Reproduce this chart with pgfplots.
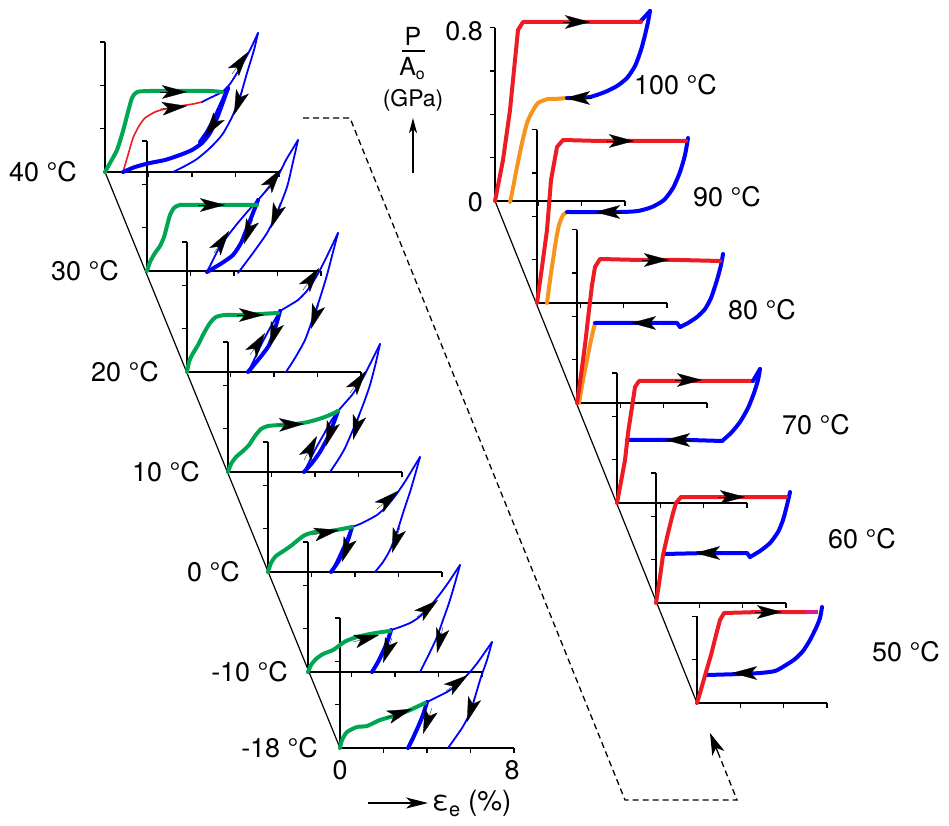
\documentclass[border=0pt]{standalone}
\usepackage{pgfplots}
\pgfplotsset{compat=1.18}
\usepackage{fontspec}
\setmainfont{TeX Gyre Heros}
\usetikzlibrary{arrows.meta}
\definecolor{grn}{RGB}{0,166,81}
\definecolor{rd}{RGB}{237,28,36}
\definecolor{bl}{RGB}{0,0,255}
\definecolor{org}{RGB}{247,148,29}
\definecolor{mag}{RGB}{230,25,140}
\tikzset{
 tg/.style={grn, line width=4bp, line cap=round, line join=round, smooth, tension=0.4},
 tb/.style={bl, line width=4bp, line cap=round, line join=round, smooth, tension=0.4},
 nb/.style={bl, line width=1.8bp, line cap=round, line join=round, smooth, tension=0.4},
 nr/.style={rd, line width=1.6bp, line cap=round, line join=round, smooth, tension=0.4},
 tr/.style={rd, line width=4bp, line cap=round, line join=round},
 to/.style={org, line width=4bp, line cap=round, line join=round, smooth, tension=0.4},
 tbs/.style={bl, line width=4bp, line cap=round, line join=round},
 arr/.style={-{Stealth[length=25bp,width=13.5bp,inset=6bp]}, black, line width=0.3bp},
 axl/.style={black, line width=1.1bp},
 lab/.style={font=\fontsize{27}{30}\selectfont, inner sep=0pt},
}
\newcommand{\lframe}[2]{%
 \draw[axl] (axis cs:#1,#2-130)--(axis cs:#1,#2)--(axis cs:#1+174,#2)
  (axis cs:#1,#2-43.3)--(axis cs:#1-5,#2-43.3)
  (axis cs:#1,#2-86.7)--(axis cs:#1-5,#2-86.7)
  (axis cs:#1,#2-130)--(axis cs:#1-5,#2-130)
  (axis cs:#1+43.5,#2)--(axis cs:#1+43.5,#2+5)
  (axis cs:#1+87,#2)--(axis cs:#1+87,#2+5)
  (axis cs:#1+130.5,#2)--(axis cs:#1+130.5,#2+5)
  (axis cs:#1+174,#2)--(axis cs:#1+174,#2+5);}
\newcommand{\rxaxis}[2]{%
 \draw[axl] (axis cs:#1,#2)--(axis cs:#1+130,#2)
  (axis cs:#1+43.3,#2)--(axis cs:#1+43.3,#2+5)
  (axis cs:#1+86.7,#2)--(axis cs:#1+86.7,#2+5)
  (axis cs:#1+130,#2)--(axis cs:#1+130,#2+5);}
\newcommand{\rframeA}[2]{\rxaxis{#1}{#2}%
 \draw[axl] (axis cs:#1,#2-173.3)--(axis cs:#1,#2)
  (axis cs:#1,#2-43.3)--(axis cs:#1-5,#2-43.3)
  (axis cs:#1,#2-86.7)--(axis cs:#1-5,#2-86.7)
  (axis cs:#1,#2-130)--(axis cs:#1-5,#2-130)
  (axis cs:#1,#2-173.3)--(axis cs:#1-5,#2-173.3);}
\newcommand{\rframeB}[2]{\rxaxis{#1}{#2}%
 \draw[axl] (axis cs:#1,#2-130)--(axis cs:#1,#2)
  (axis cs:#1,#2-43.3)--(axis cs:#1-5,#2-43.3)
  (axis cs:#1,#2-86.7)--(axis cs:#1-5,#2-86.7)
  (axis cs:#1,#2-130)--(axis cs:#1-5,#2-130);}
\newcommand{\rframeC}[2]{\rxaxis{#1}{#2}%
 \draw[axl] (axis cs:#1,#2-86.7)--(axis cs:#1,#2)
  (axis cs:#1,#2-43.3)--(axis cs:#1-5,#2-43.3)
  (axis cs:#1,#2-86.7)--(axis cs:#1-5,#2-86.7);}
\begin{document}
\begin{tikzpicture}[x=1bp,y=1bp]
\useasboundingbox (0,0) rectangle (949,826);
\begin{axis}[at={(0,0)}, anchor=south west, scale only axis, width=949bp, height=826bp,
 xmin=0, xmax=949, ymin=0, ymax=826, y dir=reverse, axis lines=none, clip=false]

% ---------- frames ----------
\lframe{105}{172}
\lframe{147}{271}
\lframe{187}{372}
\lframe{228}{472}
\lframe{268}{572}
\lframe{308}{672}
\lframe{340}{748}
\rframeA{495}{201}
\rframeA{537}{303}
\rframeA{577}{403}
\rframeB{617}{503}
\rframeB{656}{603}
\rframeC{697}{703}
\addplot[black, line width=1.2bp] coordinates {(105,172)(340,748)};
\addplot[black, line width=1.2bp] coordinates {(495,201)(697,703)};
\addplot[black, line width=1.3bp, dash pattern=on 6bp off 4bp] coordinates {(303,118)(350,118)(625,800)(737,800)(719,755)};
\addplot[-{Stealth[length=22bp,width=13bp,inset=6bp]}, black, line width=1.3bp] coordinates {(719,755)(710,733)};

% ---------- 40 C ----------
\addplot[nb] coordinates {(258,33)(254,50)(247,73)(240,97)(232,117)(222,135)(210,148)(197,159)(185,166)(173,172)};
\addplot[nr] coordinates {(123,172)(128,155)(133,138)(139,126)(145,118)(155,112)(165,109)(180,106)(193,104)(202,102)};
\addplot[nb] coordinates {(202,102)(212,97)(222,92)(230,84)(240,68)(250,50)(258,33)};
\addplot[tb] coordinates {(123,172)(135,167)(150,163)(165,160)(180,155)(192,150)(202,143)(210,133)(217,118)(223,102)(228,88)};
\addplot[tb] coordinates {(228,88)(222,102)(215,117)(207,132)(200,142)};
\addplot[tg] coordinates {(105,172)(110,163)(117,150)(123,131)(128,112)(132,98)(137,92)(150,91)(167,91)(190,91)(210,91)(222,92)};
\addplot[arr] coordinates {(160,92)(187,92)};
\addplot[arr] coordinates {(160,109)(187,106)};
\addplot[arr] coordinates {(232,74)(248,52)};
\addplot[arr] coordinates {(220,115)(205,137)};
\addplot[arr] coordinates {(243,90)(234,115)};

% ---------- 30 C ----------
\addplot[nb] coordinates {(298,140)(293,162)(287,187)(277,213)(267,233)(253,253)(238,273)};
\addplot[nb] coordinates {(207,272)(212,262)(218,250)(226,238)(237,224)(248,211)(258,200)};
\addplot[nb] coordinates {(258,200)(265,192)(272,184)(279,174)(286,160)(292,150)(298,140)};
\addplot[tb] coordinates {(258,200)(253,213)(247,228)(241,243)(233,255)(222,263)(207,272)};
\addplot[tg] coordinates {(147,271)(150,262)(155,253)(160,246)(164,237)(167,226)(170,215)(174,208)(180,205)(200,205)(230,205)(257,205)};
\addplot[arr] coordinates {(198,205)(225,205)};
\addplot[arr] coordinates {(265,191)(281,169)};
\addplot[arr] coordinates {(214,253)(229,231)};
\addplot[arr] coordinates {(253,219)(244,244)};
\addplot[arr] coordinates {(280,203)(271,228)};

% ---------- 20 C ----------
\addplot[nb] coordinates {(338,233)(333,252)(327,275)(320,298)(313,318)(305,340)(295,358)(286,372)};
\addplot[nb] coordinates {(248,372)(254,360)(261,345)(270,328)(280,311)};
\addplot[nb] coordinates {(280,311)(290,305)(298,300)(306,292)(313,282)(320,270)(328,254)(338,233)};
\addplot[tb] coordinates {(280,311)(277,322)(273,335)(268,347)(258,360)(248,372)};
\addplot[tg] coordinates {(187,372)(189,362)(192,355)(198,345)(204,333)(210,323)(216,317)(225,315)(240,315)(260,314)(278,313)};
\addplot[arr] coordinates {(237,315)(264,315)};
\addplot[arr] coordinates {(303,290)(319,268)};
\addplot[arr] coordinates {(250,355)(265,333)};
\addplot[arr] coordinates {(278,321)(270,347)};
\addplot[arr] coordinates {(319,304)(311,329)};

% ---------- 10 C ----------
\addplot[nb] coordinates {(380,344)(376,362)(370,385)(363,405)(355,425)(345,448)(338,460)(330,472)};
\addplot[nb] coordinates {(304,472)(309,462)(316,448)(324,434)(331,421)(338,411)};
\addplot[nb] coordinates {(338,411)(345,403)(352,395)(358,386)(364,376)(372,360)(380,344)};
\addplot[tb] coordinates {(338,411)(334,422)(328,437)(320,452)(312,463)(304,472)};
\addplot[tg] coordinates {(228,472)(231,464)(236,457)(243,451)(249,445)(255,436)(261,429)(268,426)(280,425)(295,424)(308,422)(322,418)(332,414)(338,411)};
\addplot[arr] coordinates {(277,425)(304,424)};
\addplot[arr] coordinates {(350,393)(366,371)};
\addplot[arr] coordinates {(304,460)(317,436)};
\addplot[arr] coordinates {(334,420)(326,446)};
\addplot[arr] coordinates {(360,414)(353,440)};

% ---------- 0 C ----------
\addplot[nb] coordinates {(420,457)(415,475)(410,492)(404,510)(397,532)(390,550)(383,562)(375,572)};
\addplot[nb] coordinates {(331,572)(337,560)(343,547)(348,536)(352,527)};
\addplot[nb] coordinates {(352,527)(360,524)(368,520)(377,515)(385,508)(392,500)(398,492)(406,480)(420,457)};
\addplot[tb] coordinates {(352,527)(349,537)(344,550)(338,562)(331,572)};
\addplot[tg] coordinates {(268,572)(271,563)(276,556)(285,550)(292,545)(298,540)(305,535)(315,532)(330,531)(342,529)(352,527)};
\addplot[arr] coordinates {(312,535)(339,530)};
\addplot[arr] coordinates {(377,509)(398,491)};
\addplot[arr] coordinates {(351,536)(342,562)};
\addplot[arr] coordinates {(400,527)(392,553)};

% ---------- -10 C ----------
\addplot[nb] coordinates {(460,565)(455,583)(449,603)(443,620)(437,637)(430,652)(420,672)};
\addplot[nb] coordinates {(372,672)(378,660)(384,647)(391,630)};
\addplot[nb] coordinates {(391,630)(400,627)(410,623)(418,618)(425,612)(432,604)(440,594)(448,583)(460,565)};
\addplot[tb] coordinates {(391,630)(388,640)(384,650)(378,662)(372,672)};
\addplot[tg] coordinates {(308,672)(311,665)(316,659)(323,654)(333,650)(340,645)(346,641)(357,637)(370,634)(382,632)(390,631)};
\addplot[arr] coordinates {(353,642)(379,635)};
\addplot[arr] coordinates {(417,617)(438,600)};
\addplot[arr] coordinates {(392,638)(383,663)};
\addplot[arr] coordinates {(443,627)(437,653)};

% ---------- -18 C ----------
\addplot[nb] coordinates {(492,642)(487,660)(481,677)(475,697)(470,713)(462,728)(448,748)};
\addplot[nb] coordinates {(408,748)(413,737)(419,723)(427,702)};
\addplot[nb] coordinates {(427,702)(437,697)(447,692)(456,686)(463,679)(470,672)(478,662)(492,642)};
\addplot[tb] coordinates {(427,702)(423,715)(418,727)(413,738)(408,748)};
\addplot[tg] coordinates {(340,748)(342,740)(347,732)(357,727)(367,726)(380,720)(397,715)(410,710)(425,703)};
\addplot[arr] coordinates {(386,718)(412,709)};
\addplot[arr] coordinates {(446,691)(468,675)};
\addplot[arr] coordinates {(432,708)(423,734)};
\addplot[arr] coordinates {(475,697)(467,722)};

% ---------- 100 C ----------
\addplot[to] coordinates {(567,98)(555,99)(548,99)(538,103)(532,112)(527,123)(522,143)(517,167)(512,193)(510,202)};
\addplot[tb] coordinates {(567,98)(575,98)(590,97)(605,92)(617,86)(627,78)(635,66)(641,50)(645,35)(648,22)(650,11)};
\addplot[tbs] coordinates {(640,22)(650,11)};
\addplot[tr] coordinates {(495,201)(503,160)(510,110)(515,60)(518,30)(523,22)(560,22)(600,22)(641,22)};
\addplot[arr] coordinates {(563,22)(590,22)};
\addplot[arr] coordinates {(592,98)(565,98)};

% ---------- 90 C ----------
\addplot[to] coordinates {(567,212)(563,215)(559,225)(556,240)(553,260)(550,280)(547,303)};
\addplot[tb] coordinates {(567,212)(620,212)(638,211)(652,207)(664,200)(673,188)(680,172)(685,155)(688,138)};
\addplot[tr] coordinates {(537,303)(542,267)(547,230)(551,180)(557,147)(563,140)(600,141)(640,141)(686,141)};
\addplot[arr] coordinates {(607,141)(634,141)};
\addplot[arr] coordinates {(622,212)(595,212)};

% ---------- 80 C ----------
\addplot[to] coordinates {(595,323)(591,340)(587,360)(583,380)(579,403)};
\addplot[tbs] coordinates {(595,323)(650,323)(677,323)(680,327)};
\addplot[tb] coordinates {(680,327)(688,323)(697,317)(705,309)(711,298)(717,280)(721,265)(723,254)};
\addplot[tr] coordinates {(577,403)(581,375)(585,345)(589,310)(592,285)(595,267)(600,259)(640,260)(680,260)(720,261)};
\addplot[arr] coordinates {(642,260)(669,260)};
\addplot[arr] coordinates {(658,323)(631,323)};

% ---------- 70 C ----------
\addplot[tbs] coordinates {(627,440)(690,440)(722,441)};
\addplot[tb] coordinates {(722,441)(731,433)(740,422)(748,408)(754,393)(758,380)(760,369)};
\addplot[tr] coordinates {(617,503)(620,487)(625,460)(628,433)(632,407)(635,387)(639,381)(690,381)(753,381)};
\addplot[tbs] coordinates {(753,381)(760,369)};
\addplot[arr] coordinates {(675,380)(702,380)};
\addplot[arr] coordinates {(692,440)(665,440)};

% ---------- 60 C ----------
\addplot[tbs] coordinates {(664,554)(707,553)(747,553)(750,557)};
\addplot[tb] coordinates {(750,557)(760,551)(770,543)(778,532)(783,520)(787,505)(790,492)};
\addplot[tr] coordinates {(656,603)(660,577)(663,555)(668,533)(673,513)(676,503)(681,497)(720,497)(786,497)};
\addplot[arr] coordinates {(718,497)(745,497)};
\addplot[arr] coordinates {(722,553)(695,553)};

% ---------- 50 C ----------
\addplot[tb] coordinates {(707,675)(740,674)(760,673)(775,671)(786,665)(795,659)(803,651)(810,640)(816,628)(820,618)(822,607)};
\addplot[tr] coordinates {(697,703)(702,686)(706,672)(711,655)(716,635)(720,620)(724,613)(760,612)(807,612)};
\addplot[mag, line width=4bp] coordinates {(806,612)(818,612)};
\addplot[arr] coordinates {(755,612)(782,612)};
\addplot[arr] coordinates {(759,673)(732,673)};

% ---------- labels ----------
\node[lab, anchor=east] at (axis cs:77,172) {40 °C};
\node[lab, anchor=east] at (axis cs:119,271) {30 °C};
\node[lab, anchor=east] at (axis cs:159,372) {20 °C};
\node[lab, anchor=east] at (axis cs:200,472) {10 °C};
\node[lab, anchor=east] at (axis cs:240,572) {0 °C};
\node[lab, anchor=east] at (axis cs:288,672) {-10 °C};
\node[lab, anchor=east] at (axis cs:318,748) {-18 °C};
\node[lab, anchor=west] at (axis cs:634,85) {100 °C};
\node[lab, anchor=west] at (axis cs:693,197) {90 °C};
\node[lab, anchor=west] at (axis cs:728,310) {80 °C};
\node[lab, anchor=west] at (axis cs:782,425) {70 °C};
\node[lab, anchor=west] at (axis cs:828,539) {60 °C};
\node[lab, anchor=west] at (axis cs:872,652) {50 °C};
\node[lab, anchor=east] at (axis cs:483,31) {0.8};
\node[lab, anchor=east] at (axis cs:483,202) {0};
\node[lab] at (axis cs:340,770) {0};
\node[lab] at (axis cs:512,770) {8};
\node[font=\fontsize{28}{30}\selectfont, inner sep=0pt, anchor=west] at (axis cs:432,803) {ε\raisebox{-6bp}{\fontsize{20}{20}\selectfont e} (\%)};
\addplot[-{Stealth[length=22bp,width=11bp,inset=6bp]}, black, line width=1.2bp] coordinates {(368,803)(428,803)};
\node[font=\fontsize{25}{26}\selectfont, inner sep=0pt] at (axis cs:413,36) {P};
\addplot[black, line width=1.3bp] coordinates {(402,51)(425,51)};
\node[font=\fontsize{25}{26}\selectfont, inner sep=0pt] at (axis cs:412,69) {A\raisebox{-4bp}{\fontsize{16}{16}\selectfont o}};
\node[font=\fontsize{23}{24}\selectfont, inner sep=0pt] at (axis cs:413,100) {(GPa)};
\addplot[-{Stealth[length=15bp,width=8bp,inset=4bp]}, black, line width=1.2bp] coordinates {(413,173)(413,118)};
\end{axis}
\end{tikzpicture}
\end{document}
